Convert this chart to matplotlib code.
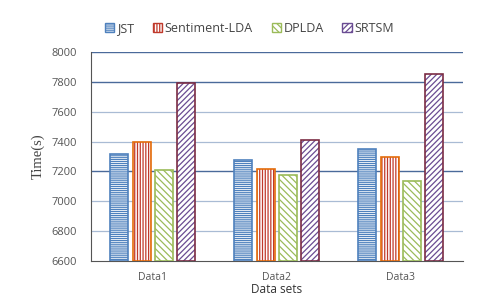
import matplotlib
matplotlib.use("Agg")
import matplotlib.pyplot as plt
import numpy as np
from matplotlib.patches import Patch

categories = ["Data1", "Data2", "Data3"]
series_names = ["JST", "Sentiment-LDA", "DPLDA", "SRTSM"]
jst = [7315, 7280, 7350]
sentiment_lda = [7400, 7215, 7300]
dplda = [7210, 7175, 7135]
srtsm = [7795, 7410, 7855]
yticks = [6600, 6800, 7000, 7200, 7400, 7600, 7800, 8000]

values = [jst, sentiment_lda, dplda, srtsm]
edge_colors = ["#4F81BD", "#E46C0A", "#9BBB59", "#7B2C44"]
hatch_colors = ["#4F81BD", "#C0392B", "#9BBB59", "#6A4C93"]
hatches = ["--------", "||||||", "\\\\\\\\\\", "//////"]

plt.rcParams["hatch.linewidth"] = 0.9
plt.rcParams["font.family"] = ["Open Sans", "DejaVu Sans"]

fig = plt.figure(figsize=(5.02, 3.06), dpi=100)
ax = fig.add_axes([0.181, 0.147, 0.741, 0.683])

x = np.arange(len(categories))
width = 0.145
step = 0.18
base = 6600
for i, (vals, ec, hc, h) in enumerate(zip(values, edge_colors, hatch_colors, hatches)):
    pos = x + (i - 1.5) * step
    heights = [v - base for v in vals]
    ax.bar(pos, heights, width, bottom=base, color="white", edgecolor=hc,
           hatch=h, linewidth=0, zorder=3)
    ax.bar(pos, heights, width, bottom=base, color="none", edgecolor=ec,
           linewidth=1.2, zorder=4)

ax.set_xlim(-0.5, 2.5)
ax.set_ylim(6600, 8000)
ax.set_yticks(yticks)
ax.set_xticks(x)
ax.set_xticklabels(categories)
dark = {8000, 7800, 7200}
for t in yticks[1:]:
    if t in dark:
        ax.axhline(t, color="#4A6A9A", linewidth=1.0, zorder=1)
    else:
        ax.axhline(t, color="#A9BBD4", linewidth=0.9, zorder=1)

for s in ["top", "right"]:
    ax.spines[s].set_visible(False)
ax.spines["left"].set_color("#555555")
ax.spines["bottom"].set_color("#555555")
ax.tick_params(axis="both", length=0, colors="#555555", labelsize=7.5)
ax.tick_params(axis="y", pad=10, labelsize=8)
ax.tick_params(axis="x", pad=8)

ax.set_ylabel("Time(s)", family=["Liberation Serif", "DejaVu Serif"], fontsize=10.5,
              color="#444444", labelpad=5)
ax.set_xlabel("Data sets", fontsize=8.5, color="#333333", labelpad=0)

handles = []
for ec, hc, h, name in zip(edge_colors, hatch_colors, hatches, series_names):
    handles.append(Patch(facecolor="white", edgecolor=hc, hatch=h, linewidth=1.0, label=name))
fig.legend(handles=handles, loc="center", bbox_to_anchor=(0.497, 0.907), ncol=4,
           frameon=False, fontsize=9, handlelength=0.75, handleheight=0.75,
           handletextpad=0.2, columnspacing=1.5, labelcolor="#444444")

fig.savefig("out.png", dpi=100, facecolor="white")
